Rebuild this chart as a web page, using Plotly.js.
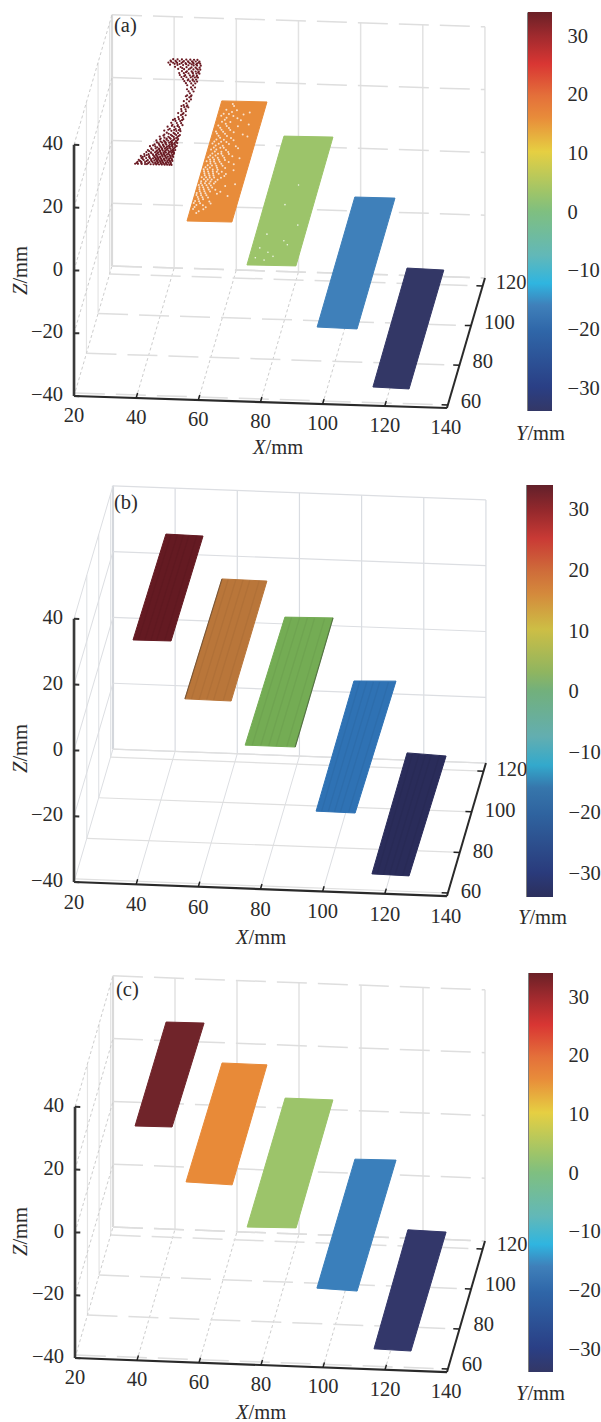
<!DOCTYPE html><html><head><meta charset="utf-8"><script src="https://cdn.plot.ly/plotly-3.0.1.min.js"></script>
<style>html,body{margin:0;padding:0;background:#fff}#g{width:601px;height:1422px}</style></head><body><div id="g"></div><script>
// ---- values (mm) ----
const xTicks=[20,40,60,80,100,120,140];
const yTicks=[60,80,100,120];
const zTicks=[-40,-20,0,20,40];
const cbTicks=[-30,-20,-10,0,10,20,30];
const yRange=[58.5,124];
const plateZ=[33,16,3,-16,-34];
// plate corners: near-left, near-right, far-right, far-left
const plateXa=[[39.1,50.9,50.5,40],[56.1,70.5,70.5,56],[75.5,91.2,91,75.3],[98.1,111,110.9,98],[116.2,127.9,127.9,116]];
const plateYa=[[61.3,62,113.8,113.3],[59.9,60.1,120.6,120.4],[59.3,59.6,124.5,124.2],[59.2,58.9,124.8,124.7],[58.4,58,117.9,118.3]];
const plateXb=[[38.6,50.8,51.2,39.2],[55.4,70.3,70.5,56],[74.9,91,91,75.6],[97.8,110.4,111.1,97.7],[115.9,127.9,128.5,115.8]];
const plateYb=[[60.5,60.7,112.4,112.7],[60,59.8,118.9,119.1],[59.4,59.4,123,122.5],[59,58.8,123.8,123.1],[58.3,58,117.1,117.9]];
const plateXc=[[38.9,50.8,51.4,39.2],[55.4,70.4,70.4,55.9],[75.3,91,90.9,75.5],[97.7,110.8,111.1,97.9],[116.3,128.3,128.5,116.1]];
const plateYc=[[61,61.2,113.2,113],[60.7,60.1,120.1,120.2],[59.7,60.2,124.2,124.2],[60.3,59.6,125.1,124.8],[59.3,58.9,118.4,118.8]];
// sparse maroon point cloud of panel (a): one Y per row with the X values of that row
const maroonRowY=[61,62,63,64,65,66,67,68,69,70,71,72,73,74,75,76,77,78,79,80,81,82,83,84,85,86,87,88,89,90,91,92,93,94,95,96,97,98,99,100,101,102,103,104,105,106,107,108,109,110,111,112,113,113.8,
 61.5,62.5,63.5,64.5,65.5,66.5,67.5,68.5,69.5,70.5,71.5,72.5,73.5,74.5,75.5,76.5,78.5,80.5,83.5,86.5,90.5,95.5,103.5,105.5,107.5,109.5,111.5,112.5];
const maroonRowX=[[39.2,40.1,41.3,42.4,43,44.2,45.1,46,46.9,47.8,48.7,49.5,50.2,50.9],[39.8,41,42.2,43.6,44.7,45.5,46.4,47.2,48,48.9,49.7,50.5],[40,41.6,42.9,44,45,45.9,46.7,47.5,48.4,49.2,50,50.8],[40.7,42.2,43.4,44.4,45.3,46.1,47,47.9,48.8,49.6,50.4],[40.3,41.5,43,44.6,45.6,46.5,47.3,48.2,49,49.9,50.7],[41.2,42.6,44,45,45.9,46.8,47.6,48.5,49.3,50.2],[41.7,43.2,44.5,45.5,46.3,47.2,48,48.9,49.8,50.6],[42,43.7,45,45.9,46.8,47.7,48.6,49.5,50.3],[42.9,44.3,45.4,46.4,47.3,48.2,49.1,50],[42.3,44,45.7,46.8,47.8,48.7,49.6,50.4],[43.6,45.1,46.3,47.4,48.5,49.3,50.2],[44.2,45.8,47,48.1,49,49.9,50.7],[43.8,46.2,47.6,48.8,50.1],[45,46.9,48.2,49.4,50.6],[44.5,47.3,49,50.2],[45.8,47.9,49.6,50.8],[46.4,48.6,50],[45.4,47.7,49.3,50.6],[47,48.9,50.3],[46.1,48.3,49.8],[47.5,49.2,50.7],[46.9,48.7,50.1],[48.1,49.6],[47.7,49,50.4],[48.6,50],[49.3,50.8],[48.2,49.9],[49.1,50.5],[48.8,50.2],[49.6,50.9],[49.2,50.4],[49.9],[48.9,50.6],[49.7,51],[50.3],[49.4,50.8],[50.1],[49.5,51.1],[48.8,50.5],[49.9,51.2],[48.5,50.4],[47.9,49.6,50.9],[47.2,49,50.4,51.3],[46.6,48.3,49.7,50.8],[45.9,47.5,48.9,50.2,51.2],[45.2,46.9,48.4,49.6,50.7],[44.8,46.3,47.8,49.2,50.3,51.3],[45.5,47.1,48.6,49.9,50.9],[44.1,46,47.5,49,50.4,51.2],[42.9,44.7,46.6,48.2,49.5,50.8],[41.1,43.5,45.3,47,48.7,49.8,51],[40.4,41.9,43.2,44.6,45.9,47.3,48.5,49.6,50.6],[40.9,42.5,43.8,45.2,46.5,47.8,49,50.2],[41.6,43,44.4,45.8,47.1,48.3,49.4],
 [39.6,41.1,43.3,45.6,46.3,47.4,48.3,49.1,50.5],[40.5,42.6,44.3,46,47,47.7,49.3,50.2],[41.2,43.9,45.4,46.2,47.2,48.1,49.5,50.6],[41,43.1,44.9,45.8,46.6,48.5,49.9],[42.1,44.2,45.2,47.1,48,49.6,50.4],[43.4,45.3,46.5,47.4,48.8,50.6],[42.5,44.8,46,47.5,49.2,50.1],[43.1,45.5,46.5,48,49.8,50.7],[44.7,46,47.6,48.6,50.3],[43.2,45.3,46.5,48.2,49.3,50.8],[44.8,47,48.9,49.8],[45.3,46.6,48.5,50.3],[44.9,47,49.2,50.5],[46.1,47.8,49.9],[45.6,48.4,50.5],[47.1,49.1],[46.6,48.5,50],[47.4,49.2],[47.2,50.1],[49.7],[48.6,50.3],[49.1,50.7],[48.2,49.8],[46.7,49.4,50.7],[46.9,49,50.8],[45.3,47.9,49.9],[42.5,44.1,46.2,48,49.4],[41.2,42.8,44.9,46.8,48.2,50]];
// gaps in the orange and green clouds of panel (a)
const orangeGapY=[118,116,114,112,110,108,106,104,102,100,98,96,94,92,90,88,86,84,82,80,78,76,74,72,70,68,66,64,
 119,115,113,111,109,107,105,103,101,99,97,95,93,91,89,87,85,83,81,79,77,75,73,71,69,67,65];
const orangeGapX=[[60.4],[58.3,61.7],[57.8,59.5,64.2],[59.1,62.6],[58,60.7],[57.2,59.9,63.5],[61.4,58.6],[57.5,60.1,65.8],[58.9,62.4],[57.4,59.6,61.3],[58.2,60.5,64.7],[57.1,58.8,61.9],[57.9,59.7,60.8,63.2],[57,58.4,60,62.1,67],[56.8,58,59.2,61,63.9],[57.5,58.9,60.3,62.3],[56.6,57.8,59.5,61.1,66.2],[57.2,58.6,60,61.8,64.1],[56.7,58.1,59.3,60.7,62.9],[56.9,58.4,59.9,61.5],[56.5,57.6,59,60.4,65],[57.1,58.5,60.1,62.2],[56.6,57.9,59.4,63.1],[57.3,58.8,60.6],[56.8,58.1,61.4],[57.6,59.7],[56.9,60.2],[58.3],
 [59.8],[60.3,66],[57.2,61.1],[58.7,63.9],[59.4,66.8],[58,60.8],[57,59.3,62.7],[58.2,60.9,67.5],[57.9,60.3,63.4],[57,59,62.3],[57.8,59.9,61,65.6],[58.5,60.6,62.8],[57.4,59.1,61.4,64.5],[57.7,59,60.5,62.5],[58.2,59.8,61.7,65.7],[57,58.4,60.7,63.3],[56.9,58.2,59.7,61,62.6],[57.5,59,60.3,63.8],[57.6,58.8,60.1,62],[57,58.3,59.7,61.2,68],[56.9,58.1,59.6,61],[57.4,58.9,60.7,64],[56.7,58.2,59.9,66.7],[57.7,59.2],[56.6,58.6,62],[57.2,60.8],[58.9]];
const greenGapX=[80.5,83,78,85,88,82,79,84.5,86.5,77.5,81];
const greenGapY=[62,64,68,72,80,90,75,100,70,63,66];
// streak positions across the plates of panel (b), fraction of plate width
const streakFrac=[0.14,0.31,0.47,0.62,0.83];
// ---- colours ----
const colorsA=['#6b1b24','#e88c3a','#9cc46a','#3f80ba','#333766'];
const colorsB=['#641a22','#b9763a','#74ac54','#2f72b4','#2a2c5a'];
const colorsC=['#70242a','#e88a38','#9cc46a','#3a7fbb','#33376a'];
const cscale=[[0,'#333766'],[0.06,'#2a3f85'],[0.2,'#2f66a8'],[0.265,'#3f80ba'],[0.32,'#2fb5e0'],[0.39,'#62b8b8'],[0.5,'#7fbf80'],[0.545,'#9cc46a'],[0.65,'#e6cf42'],[0.735,'#e88c3a'],[0.79,'#e4703a'],[0.87,'#d93633'],[0.94,'#a02a2e'],[1,'#6a2026']];
const cscaleB=[[0,'#2c2f5c'],[0.06,'#2a3b7c'],[0.2,'#2f639f'],[0.265,'#3676ac'],[0.32,'#33a9cc'],[0.39,'#63aeb0'],[0.5,'#72b07c'],[0.545,'#8fb560'],[0.65,'#cdbe45'],[0.735,'#d48a3c'],[0.79,'#cf6d3a'],[0.87,'#c93a35'],[0.94,'#93282c'],[1,'#62202a']];
// ---- panels ----
const panels=[
 {name:'(a)',xa:'x',ya:'y',range:[474,0],v:{ox:74,oy:396,xx:3.108,xy:.1,yx:.58,yy:-1.985,zs:3.14},px:plateXa,py:plateYa,col:colorsA,cs:cscale,bar:{l:528,r:552,t:12.5,b:411},title:[277,447],zt:[20,271],yt:[540,433],lab:[125,25],yOff:[13,-2],xOff:21,solid:false},
 {name:'(b)',xa:'x2',ya:'y2',range:[960,474],v:{ox:74,oy:882,xx:3.108,xy:.117,yx:.595,yy:-2.03,zs:3.29},px:plateXb,py:plateYb,col:colorsB,cs:cscaleB,bar:{l:527,r:552.5,t:485,b:897},title:[260,937],zt:[20,749],yt:[542,917],lab:[126,502],yOff:[13,0],xOff:22,solid:true},
 {name:'(c)',xa:'x3',ya:'y3',range:[1422,960],v:{ox:75,oy:1358,xx:3.1,xy:.117,yx:.58,yy:-2,zs:3.14},px:plateXc,py:plateYc,col:colorsC,cs:cscale,bar:{l:529,r:552.5,t:973,b:1372},title:[260,1412],zt:[20,1232],yt:[540,1393],lab:[127,989],yOff:[14,-3],xOff:21,solid:false}
];
const H=1422,FONT='"Liberation Serif",serif',TXT='#2b2b2b',FS=20.5;
const traces=[],annotations=[],shapes=[];
const xR=[xTicks[0],xTicks[xTicks.length-1]],zR=[zTicks[0],zTicks[zTicks.length-1]];
function proj(v,x,y,z){const a=x-20,b=y-yRange[0],c=z+40;return [v.ox+v.xx*a+v.yx*b,v.oy+v.xy*a+v.yy*b-v.zs*c];}
function seg(p,list,style){const xs=[],ys=[];list.forEach(s=>{const A=proj(p.v,...s[0]),B=proj(p.v,...s[1]);xs.push(A[0],B[0],null);ys.push(A[1],B[1],null);});
 traces.push({type:'scatter',mode:'lines',xaxis:p.xa,yaxis:p.ya,x:xs,y:ys,line:style,hoverinfo:'skip',showlegend:false});}
function texts(p,pts,strs,pos){traces.push({type:'scatter',mode:'text',xaxis:p.xa,yaxis:p.ya,x:pts.map(q=>q[0]),y:pts.map(q=>q[1]),text:strs,textposition:pos,textfont:{family:FONT,size:FS,color:TXT},cliponaxis:false,hoverinfo:'skip',showlegend:false});}
const fmt=v=>String(v).replace('-','\u2212');
panels.forEach((p,ip)=>{
 const yMin=yRange[0],yMax=yRange[1];
 const wallV=p.solid?{color:'#d9dce1',width:1.2}:{color:'#e2e2e2',width:1.5};
 const wallH=p.solid?{color:'#dcdee2',width:1.2}:{color:'#dedede',width:1.5,dash:'30px,11px'};
 const thin =p.solid?{color:'#dcdee2',width:1}:{color:'#cdcdcd',width:1,dash:'3px,2.5px'};
 const floorH=p.solid?{color:'#dfdfdf',width:1.2}:{color:'#dedede',width:1.5,dash:'30px,11px'};
 seg(p,xTicks.map(x=>[[x,yMax,zR[0]],[x,yMax,zR[1]]]),wallV);
 seg(p,[[[xR[0],yMax,zR[0]],[xR[0],yMax,zR[1]]]],{color:p.solid?'#d4d7dc':'#dadada',width:2.2});
 seg(p,zTicks.map(z=>[[xR[0],yMax,z],[xR[1],yMax,z]]),wallH);
 seg(p,yTicks.map(y=>[[xR[0],y,zR[0]],[xR[0],y,zR[1]]]),{color:p.solid?'#e2e4e7':'#e4e4e4',width:1.2});
 seg(p,zTicks.map(z=>[[xR[0],yMin,z],[xR[0],yMax,z]]),thin);
 seg(p,xTicks.slice(1).map(x=>[[x,yMin,zR[0]],[x,yMax,zR[0]]]),thin);
 seg(p,yTicks.map(y=>[[xR[0],y,zR[0]],[xR[1],y,zR[0]]]),floorH);
 seg(p,[[[xR[0],yMax,zR[0]],[xR[1],yMax,zR[0]]]],floorH);
 plateZ.forEach((z,k)=>{
  if(ip===0&&k===0) return;
  const pts=p.px[k].map((x,i)=>proj(p.v,x,p.py[k][i],z));pts.push(pts[0]);
  traces.push({type:'scatter',mode:'lines',xaxis:p.xa,yaxis:p.ya,x:pts.map(q=>q[0]),y:pts.map(q=>q[1]),fill:'toself',fillcolor:p.col[k],line:{color:p.col[k],width:1},hoverinfo:'skip',showlegend:false});
  if(ip===1){
   const list=streakFrac.map(f=>{const xn=p.px[k][0]+f*(p.px[k][1]-p.px[k][0]),xf=p.px[k][3]+f*(p.px[k][2]-p.px[k][3]),yn=p.py[k][0],yf=p.py[k][3];return [[xn,yn,z],[xf,yf,z]];});
   seg(p,list,{color:'rgba(0,0,0,0.045)',width:1.4});
   if(k===1||k===2){const e=k===1?[0,3]:[1,2];seg(p,[[[p.px[k][e[0]],p.py[k][e[0]],z],[p.px[k][e[1]],p.py[k][e[1]],z]]],{color:'rgba(40,40,40,0.45)',width:1.1});}
  }
 });
 if(ip===0){
  const mx=[],my=[];maroonRowX.forEach((r,i)=>r.forEach(x=>{const q=proj(p.v,x,maroonRowY[i],plateZ[0]);mx.push(q[0]);my.push(q[1]);}));
  traces.push({type:'scatter',mode:'markers',x:mx,y:my,marker:{color:p.col[0],size:2.2},hoverinfo:'skip',showlegend:false});
  const ox=[],oy=[];orangeGapX.forEach((r,i)=>r.forEach(x=>{const q=proj(p.v,x,orangeGapY[i],plateZ[1]);ox.push(q[0]);oy.push(q[1]);}));
  traces.push({type:'scatter',mode:'markers',x:ox,y:oy,marker:{color:'#fff',size:2,opacity:.75},hoverinfo:'skip',showlegend:false});
  const g=greenGapX.map((x,i)=>proj(p.v,x,greenGapY[i],plateZ[2]));
  traces.push({type:'scatter',mode:'markers',x:g.map(q=>q[0]),y:g.map(q=>q[1]),marker:{color:'#fff',size:1.6,opacity:.85},hoverinfo:'skip',showlegend:false});
 }
 const blk={color:'#333',width:2};
 seg(p,[[[xR[0],yMin,zR[0]],[xR[0],yMin,zR[1]]]],{color:'#3a3a3a',width:2.6});
 seg(p,[[[xR[0],yMin,zR[0]],[xR[1],yMin,zR[0]]]],{color:'#2a2a2a',width:2.2});
 seg(p,[[[xR[1],yMin,zR[0]],[xR[1],yMax,zR[0]]]],{color:'#2a2a2a',width:2});
 seg(p,zTicks.map(z=>[[xR[0],yMin,z],[xR[0]+1.7,yMin,z]]),blk);
 seg(p,xTicks.slice(1,-1).map(x=>[[x,yMin,zR[0]],[x,yMin+2.5,zR[0]]]),{color:'#222',width:1.5});
 seg(p,yTicks.map(y=>[[xR[1],y,zR[0]],[xR[1]-2,y,zR[0]]]),{color:'#222',width:1.5});
 texts(p,xTicks.map(x=>{const q=proj(p.v,x,yMin,zR[0]);return [q[0]+(x===140?-1:0),q[1]+p.xOff];}),xTicks.map(fmt),'middle center');
 texts(p,zTicks.map(z=>{const q=proj(p.v,xR[0],yMin,z);return [q[0]-11,q[1]];}),zTicks.map(fmt),'middle left');
 texts(p,yTicks.map(y=>{const q=proj(p.v,xR[1],y,zR[0]);return [q[0]+p.yOff[0],q[1]+p.yOff[1]];}),yTicks.map(fmt),'middle right');
 const note=(xy,text,extra)=>annotations.push(Object.assign({xref:p.xa,yref:p.ya,x:xy[0],y:xy[1],text:text,showarrow:false,xanchor:'center',yanchor:'middle',font:{family:FONT,size:FS,color:TXT}},extra||{}));
 note(p.title,'<i>X</i>/mm');
 note(p.zt,'<i>Z</i>/mm',{textangle:-90});
 note(p.yt,'<i>Y</i>/mm');
 note(p.lab,p.name);
 const b=p.bar;
 const c0=proj(p.v,p.px[0][0],p.py[0][0],plateZ[0]);
 traces.push({type:'scatter',mode:'markers',xaxis:p.xa,yaxis:p.ya,x:plateZ.map(()=>c0[0]),y:plateZ.map(()=>c0[1]),hoverinfo:'skip',showlegend:false,
  marker:{size:1,opacity:0,color:plateZ,colorscale:p.cs,cmin:-34,cmax:34,showscale:true,
   colorbar:{x:b.l/601,xanchor:'left',y:(H-b.b)/H,yanchor:'bottom',lenmode:'pixels',len:b.b-b.t,thicknessmode:'pixels',thickness:b.r-b.l,xpad:0,ypad:0,outlinewidth:0,
    tickmode:'array',tickvals:cbTicks,ticktext:cbTicks.map(fmt),ticks:'outside',ticklen:12,tickwidth:1,tickcolor:'rgba(0,0,0,0)',tickfont:{family:FONT,size:FS,color:TXT}}}});
 const yOf=v=>b.t+(34-v)*(b.b-b.t)/68;
 cbTicks.forEach(v=>shapes.push({type:'line',xref:'paper',yref:'paper',x0:(b.r-5)/601,x1:b.r/601,y0:(H-yOf(v))/H,y1:(H-yOf(v))/H,line:{color:'#222',width:1.5}}));
 shapes.push({type:'line',xref:'paper',yref:'paper',x0:b.l/601,x1:b.l/601,y0:(H-b.t)/H,y1:(H-b.b)/H,line:{color:'#555',width:1.5}});
});
const axis=(r,dom)=>({range:r,domain:dom,visible:false,fixedrange:true});
const layout={width:601,height:1422,margin:{l:0,r:0,t:0,b:0},showlegend:false,paper_bgcolor:'#fff',plot_bgcolor:'#fff',annotations,shapes};
panels.forEach((p,i)=>{const s=i===0?'':String(i+1);
 layout['xaxis'+s]=axis([0,601],[0,1]);
 layout['yaxis'+s]=axis(p.range,[(H-p.range[0])/H,(H-p.range[1])/H]);
 layout['xaxis'+s].anchor='y'+s;layout['yaxis'+s].anchor='x'+s;});
Plotly.newPlot('g',traces,layout,{staticPlot:true});
</script></body></html>
